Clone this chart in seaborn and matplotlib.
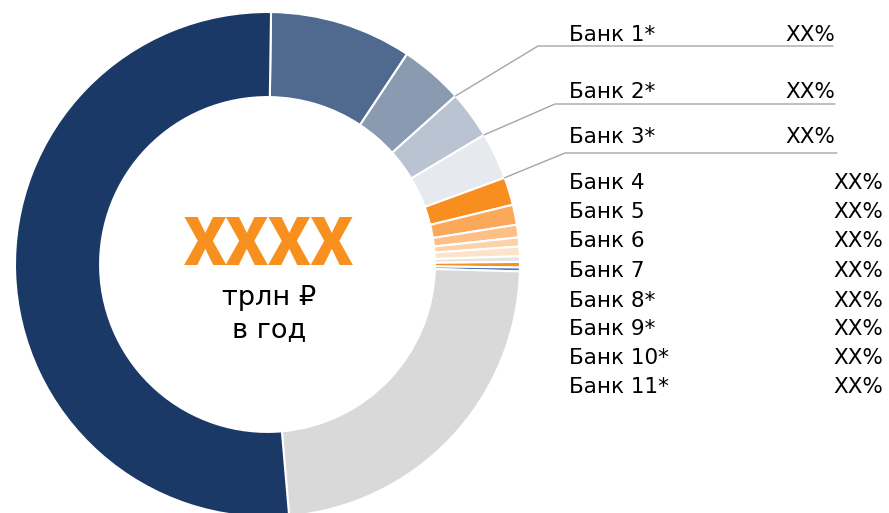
import numpy as np
import matplotlib
matplotlib.use("Agg")
from matplotlib import pyplot as plt
import seaborn as sns

# slice shares, clockwise from the top (percent)
slices = ["Прочие банки", "Банк 1*", "Банк 2*", "Банк 3*", "Банк 4", "Банк 5",
          "Банк 6", "Банк 7", "Банк 8*", "Банк 9*", "Банк 10*", "Банк 11*",
          "Прочие", "Крупнейший банк"]
shares = [9.1, 4.05, 3.05, 3.0, 1.78, 1.28, 0.81, 0.58, 0.61, 0.36, 0.35, 0.25, 23.2, 51.6]
colors = ["#4f6a8e", "#8a9ab1", "#b9c3d1", "#e6e9ee", "#f98e20", "#fba85a",
          "#fdbf86", "#fdd2aa", "#fde3c9", "#e4e4e4", "#f7901e", "#4a78b8",
          "#d9d9d9", "#1a3966"]

# legend on the right
bank_labels = ["Банк 1*", "Банк 2*", "Банк 3*", "Банк 4", "Банк 5", "Банк 6",
               "Банк 7", "Банк 8*", "Банк 9*", "Банк 10*", "Банк 11*"]
bank_values = ["XX%"] * 11

total_value = "XXXX"
total_units = "трлн ₽\nв год"

W, H = 889, 513
CX, CY, R = 267.5, 264.5, 252.5


def pix(x, y):
    """reference pixel -> data coords of the pie axes"""
    return (x - CX) / R, (CY - y) / R


sns.set_theme(style="white")
plt.rcParams['font.family'] = ['DejaVu Sans']

fig = plt.figure(figsize=(W / 100, H / 100), dpi=100)
ax = fig.add_axes([(CX - R) / W, (H - CY - R) / H, 2 * R / W, 2 * R / H])

wedges, _ = ax.pie(shares, colors=colors, startangle=89.2, counterclock=False,
                   radius=1, wedgeprops=dict(width=0.337, edgecolor="white", linewidth=1.5))
ax.set_xlim(-1, 1)
ax.set_ylim(-1, 1)
ax.axis("off")

# centre text
x0, y0 = pix(269, 265)
ax.text(x0, y0, total_value, ha="center", va="baseline", fontsize=48,
        fontweight="black", color="#f7901e", family="Roboto")
for i, line in enumerate(total_units.split("\n")):
    x1, y1 = pix(269, 305 + 32 * i)
    ax.text(x1, y1, line, ha="center", va="baseline", fontsize=19.5, color="black")

# leader lines for Bank 1-3: from end of slice to an elbow, then under the label
elbows = [(538, 46), (555, 104), (565, 153)]
line_end = [833, 835, 837]
for k, (ex, ey) in enumerate(elbows):
    w = wedges[k + 1]
    a = np.deg2rad(w.theta1)
    px, py = np.cos(a) * w.r, np.sin(a) * w.r
    e = pix(ex, ey)
    f = pix(line_end[k], ey)
    ax.plot([px, e[0], f[0]], [py, e[1], f[1]], color="#a6a6a6", lw=1,
            clip_on=False, solid_joinstyle="miter")

# bank labels
label_y = [35, 92, 137, 183, 212, 241, 271, 301, 329, 358, 387]
for i, (name, val) in enumerate(zip(bank_labels, bank_values)):
    right = 835 if i < 3 else 883
    lx, ly = pix(569, label_y[i])
    rx, _ = pix(right, label_y[i])
    ax.text(lx, ly, name, ha="left", va="center", fontsize=15.5, color="black", clip_on=False)
    ax.text(rx, ly, val, ha="right", va="center", fontsize=15.5, color="black", clip_on=False)

fig.savefig("out.png", dpi=100, facecolor="white")
